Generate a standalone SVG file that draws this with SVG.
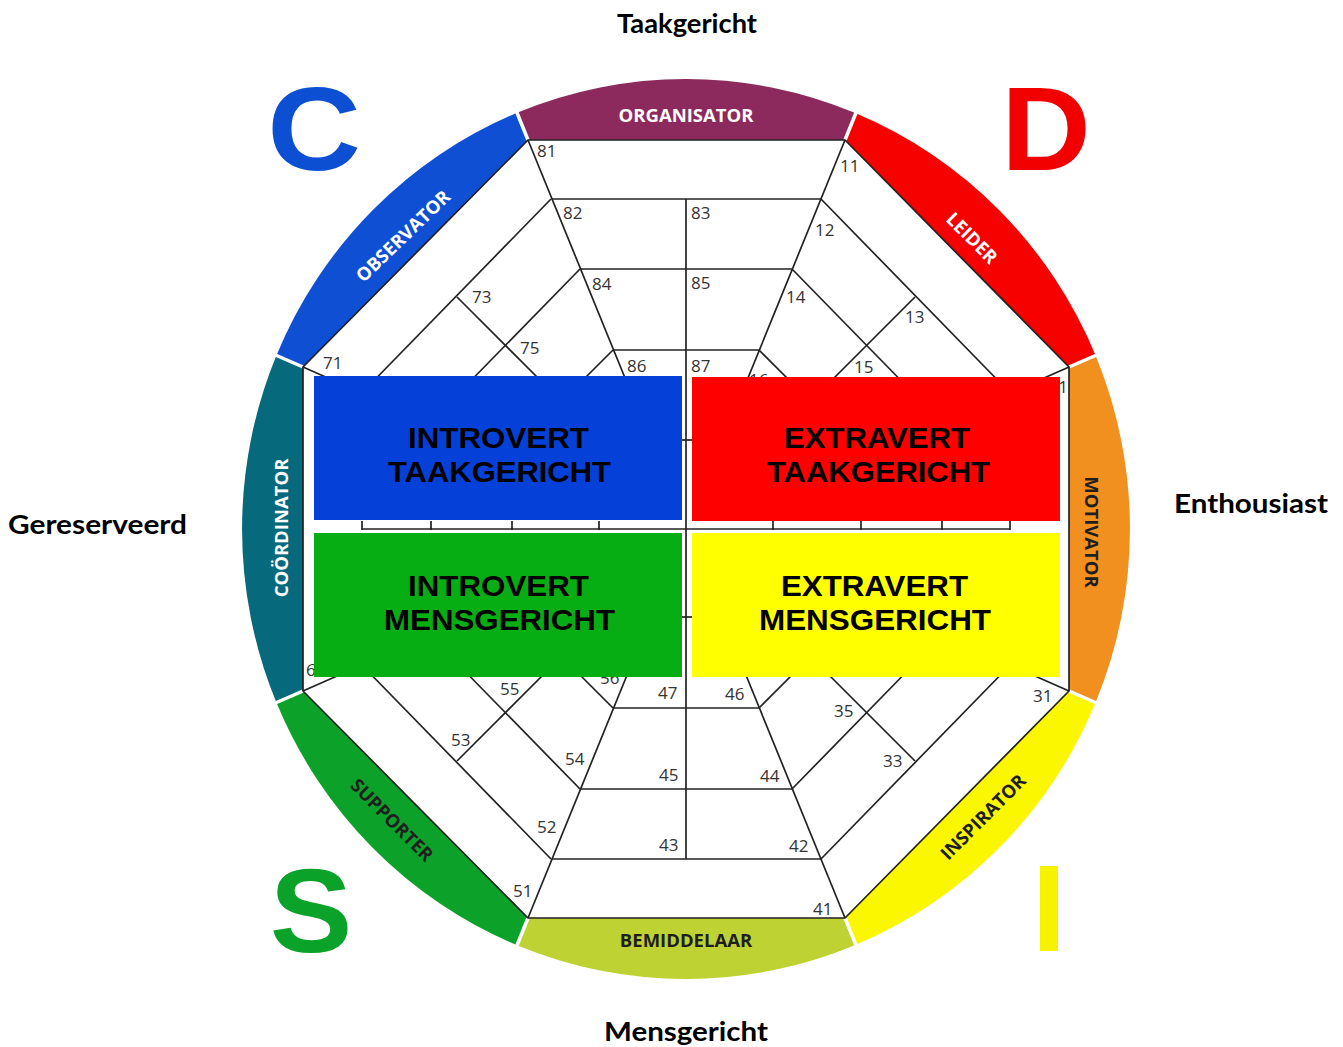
<svg xmlns="http://www.w3.org/2000/svg" width="1343" height="1047" viewBox="0 0 1343 1047">
  <style>
    .axis { font-family: "Lato", "Liberation Sans", sans-serif; font-weight: 700; font-size: 27px; fill: #000; }
    .big { font-family: "Liberation Sans", "Arial", sans-serif; font-weight: 700; font-size: 118px; }
    .band { font-family: "Open Sans", "Liberation Sans", sans-serif; font-weight: 700; font-size: 18.5px; text-anchor: middle; }
    .light { fill: #ffffff; }
    .dark { fill: #1e1e1e; }
    .num { font-family: "Open Sans", "Liberation Sans", sans-serif; font-size: 17px; fill: #333; }
    .grid { stroke: #222; stroke-width: 1.7; fill: none; stroke-linecap: butt; }
    .gap { stroke: #fff; stroke-width: 3.5; }
    .box-text { font-family: "Liberation Sans", "Arial", sans-serif; font-weight: 700; font-size: 30px; fill: #000; }
  </style>

  <rect width="1343" height="1047" fill="#ffffff"/>

  <!-- axis captions -->
  <g id="axis-labels">
    <text class="axis" x="617" y="33" textLength="140" lengthAdjust="spacingAndGlyphs">Taakgericht</text>
    <text class="axis" x="8" y="534" textLength="179" lengthAdjust="spacingAndGlyphs">Gereserveerd</text>
    <text class="axis" x="1174" y="513" textLength="154" lengthAdjust="spacingAndGlyphs">Enthousiast</text>
    <text class="axis" x="604" y="1041" textLength="164" lengthAdjust="spacingAndGlyphs">Mensgericht</text>
  </g>

  <!-- DISC letters -->
  <g id="letters">
    <text class="big" x="314" y="170" text-anchor="middle" fill="#0d4fd2" transform="translate(314,170) scale(1.1,1) translate(-314,-170)">C</text>
    <text class="big" x="1046" y="170" text-anchor="middle" fill="#f20000" transform="translate(1046,170) scale(1.05,1) translate(-1046,-170)">D</text>
    <text class="big" x="311" y="952" text-anchor="middle" fill="#0ba22a" transform="translate(311,952) scale(1.05,1) translate(-311,-952)">S</text>
    <rect x="1040" y="866" width="18" height="85" fill="#f7f200"/>
  </g>

  <!-- outer ring of role segments -->
  <g id="segment-organisator">
    <path d="M528,140 L845,140 L855.9,113.3 A444,450 0 0 0 517,112.8 Z" fill="#8c2a5d"/>
    <text class="band light" x="686" y="122">ORGANISATOR</text>
  </g>
  <g id="segment-leider">
    <path d="M845,140 L1069,367 L1095.7,355.7 A444,450 0 0 0 855.9,113.3 Z" fill="#f60000"/>
    <text class="band light" transform="translate(972,238) rotate(45)" y="6.6">LEIDER</text>
  </g>
  <g id="segment-motivator">
    <path d="M1069,367 L1069,691 L1095.7,702.3 A444,450 0 0 0 1095.7,355.7 Z" fill="#f18f1f"/>
    <text class="band dark" transform="translate(1092,532) rotate(90)" y="6.6">MOTIVATOR</text>
  </g>
  <g id="segment-inspirator">
    <path d="M1069,691 L845,918 L855.9,944.7 A444,450 0 0 0 1095.7,702.3 Z" fill="#fbf700"/>
    <text class="band dark" transform="translate(983,817) rotate(-45)" y="6.6">INSPIRATOR</text>
  </g>
  <g id="segment-bemiddelaar">
    <path d="M845,918 L528,918 L517,945.2 A444,450 0 0 0 855.9,944.7 Z" fill="#bfd233"/>
    <text class="band dark" x="686" y="947">BEMIDDELAAR</text>
  </g>
  <g id="segment-supporter">
    <path d="M528,918 L303,691 L276.3,702.3 A444,450 0 0 0 517,945.2 Z" fill="#0ca22a"/>
    <text class="band dark" transform="translate(392,820) rotate(45)" y="6.6">SUPPORTER</text>
  </g>
  <g id="segment-coordinator">
    <path d="M303,691 L303,367 L276.3,355.7 A444,450 0 0 0 276.3,702.3 Z" fill="#076a7c"/>
    <text class="band light" transform="translate(281,528) rotate(-90)" y="6.6">COÖRDINATOR</text>
  </g>
  <g id="segment-observator">
    <path d="M303,367 L528,140 L517,112.8 A444,450 0 0 0 276.3,355.7 Z" fill="#0f4fd3"/>
    <text class="band light" transform="translate(403,236) rotate(-44)" y="6.6">OBSERVATOR</text>
  </g>

  <!-- white separators between the segments -->
  <g id="segment-gaps" class="gap">
    <line x1="528" y1="140" x2="509" y2="93"/>
    <line x1="845" y1="140" x2="864" y2="93"/>
    <line x1="1069" y1="367" x2="1115" y2="347"/>
    <line x1="1069" y1="691" x2="1115" y2="711"/>
    <line x1="845" y1="918" x2="864" y2="965"/>
    <line x1="528" y1="918" x2="509" y2="965"/>
    <line x1="303" y1="691" x2="257" y2="711"/>
    <line x1="303" y1="367" x2="257" y2="347"/>
  </g>

  <!-- score grid inside the octagon -->
  <g id="connectors" class="grid">
    <polygon points="528,140 845,140 1069,367 1069,691 845,918 528,918 303,691 303,367"/>
    <!-- central column -->
    <line x1="528" y1="140" x2="634" y2="400"/>
    <line x1="845" y1="140" x2="739" y2="400"/>
    <line x1="528" y1="918" x2="634" y2="658"/>
    <line x1="845" y1="918" x2="739" y2="658"/>
    <line x1="686" y1="199" x2="686" y2="859"/>
    <line x1="552" y1="199" x2="821" y2="199"/>
    <line x1="581" y1="269" x2="792" y2="269"/>
    <line x1="614" y1="350" x2="759" y2="350"/>
    <line x1="552" y1="859" x2="821" y2="859"/>
    <line x1="581" y1="789" x2="792" y2="789"/>
    <line x1="614" y1="708" x2="759" y2="708"/>
    <!-- top right sector -->
    <line x1="821" y1="199" x2="1017" y2="400"/>
    <line x1="792" y1="269" x2="920" y2="400"/>
    <line x1="915" y1="297" x2="812" y2="400"/>
    <line x1="759" y1="350" x2="809" y2="400"/>
    <line x1="1069" y1="367" x2="1035" y2="382"/>
    <!-- top left sector -->
    <line x1="551" y1="199" x2="355" y2="400"/>
    <line x1="580" y1="269" x2="452" y2="400"/>
    <line x1="457" y1="297" x2="560" y2="400"/>
    <line x1="613" y1="350" x2="563" y2="400"/>
    <line x1="303" y1="367" x2="337" y2="382"/>
    <!-- bottom right sector -->
    <line x1="821" y1="859" x2="1017" y2="658"/>
    <line x1="792" y1="789" x2="920" y2="658"/>
    <line x1="915" y1="761" x2="812" y2="658"/>
    <line x1="759" y1="708" x2="809" y2="658"/>
    <line x1="1069" y1="691" x2="1035" y2="676"/>
    <!-- bottom left sector -->
    <line x1="551" y1="859" x2="355" y2="658"/>
    <line x1="580" y1="789" x2="452" y2="658"/>
    <line x1="457" y1="761" x2="560" y2="658"/>
    <line x1="613" y1="708" x2="563" y2="658"/>
    <line x1="303" y1="691" x2="337" y2="676"/>
    <!-- middle scale -->
    <line x1="362" y1="529" x2="1010" y2="529"/>
    <line x1="362" y1="521" x2="362" y2="530"/>
    <line x1="431" y1="521" x2="431" y2="530"/>
    <line x1="512" y1="521" x2="512" y2="530"/>
    <line x1="599" y1="521" x2="599" y2="530"/>
    <line x1="773" y1="521" x2="773" y2="530"/>
    <line x1="861" y1="521" x2="861" y2="530"/>
    <line x1="942" y1="521" x2="942" y2="530"/>
    <line x1="1010" y1="521" x2="1010" y2="530"/>
    <line x1="676" y1="440" x2="696" y2="440"/>
    <line x1="676" y1="617" x2="696" y2="617"/>
  </g>

  <!-- cell numbers -->
  <g id="cell-numbers" class="num">
    <text x="537" y="157">81</text>
    <text x="840" y="172">11</text>
    <text x="563" y="219">82</text>
    <text x="691" y="219">83</text>
    <text x="815" y="236">12</text>
    <text x="472" y="303">73</text>
    <text x="592" y="290">84</text>
    <text x="691" y="289">85</text>
    <text x="786" y="303">14</text>
    <text x="905" y="323">13</text>
    <text x="323" y="369">71</text>
    <text x="520" y="354">75</text>
    <text x="627" y="372">86</text>
    <text x="691" y="372">87</text>
    <text x="854" y="373">15</text>
    <text x="749" y="386">16</text>
    <text x="1068" y="393" text-anchor="end">21</text>
    <text x="306" y="676">61</text>
    <text x="600" y="684">56</text>
    <text x="500" y="695">55</text>
    <text x="658" y="699">47</text>
    <text x="725" y="700">46</text>
    <text x="834" y="717">35</text>
    <text x="1033" y="702">31</text>
    <text x="451" y="746">53</text>
    <text x="565" y="765">54</text>
    <text x="659" y="781">45</text>
    <text x="760" y="782">44</text>
    <text x="883" y="767">33</text>
    <text x="537" y="833">52</text>
    <text x="659" y="851">43</text>
    <text x="789" y="852">42</text>
    <text x="513" y="897">51</text>
    <text x="813" y="915">41</text>
  </g>

  <!-- quadrant boxes -->
  <g id="box-introvert-taakgericht">
    <rect x="314" y="376" width="368" height="144" fill="#0541d9"/>
    <text class="box-text" x="408" y="448" textLength="181" lengthAdjust="spacingAndGlyphs">INTROVERT</text>
    <text class="box-text" x="388" y="482" textLength="223" lengthAdjust="spacingAndGlyphs">TAAKGERICHT</text>
  </g>
  <g id="box-extravert-taakgericht">
    <rect x="692" y="377" width="368" height="144" fill="#ff0000"/>
    <text class="box-text" x="784" y="448" textLength="186" lengthAdjust="spacingAndGlyphs">EXTRAVERT</text>
    <text class="box-text" x="767" y="482" textLength="223" lengthAdjust="spacingAndGlyphs">TAAKGERICHT</text>
  </g>
  <g id="box-introvert-mensgericht">
    <rect x="314" y="533" width="368" height="144" fill="#06ad13"/>
    <text class="box-text" x="408" y="596" textLength="181" lengthAdjust="spacingAndGlyphs">INTROVERT</text>
    <text class="box-text" x="384" y="630" textLength="231" lengthAdjust="spacingAndGlyphs">MENSGERICHT</text>
  </g>
  <g id="box-extravert-mensgericht">
    <rect x="692" y="533" width="368" height="144" fill="#ffff00"/>
    <text class="box-text" x="781" y="596" textLength="187" lengthAdjust="spacingAndGlyphs">EXTRAVERT</text>
    <text class="box-text" x="759" y="630" textLength="232" lengthAdjust="spacingAndGlyphs">MENSGERICHT</text>
  </g>
</svg>
